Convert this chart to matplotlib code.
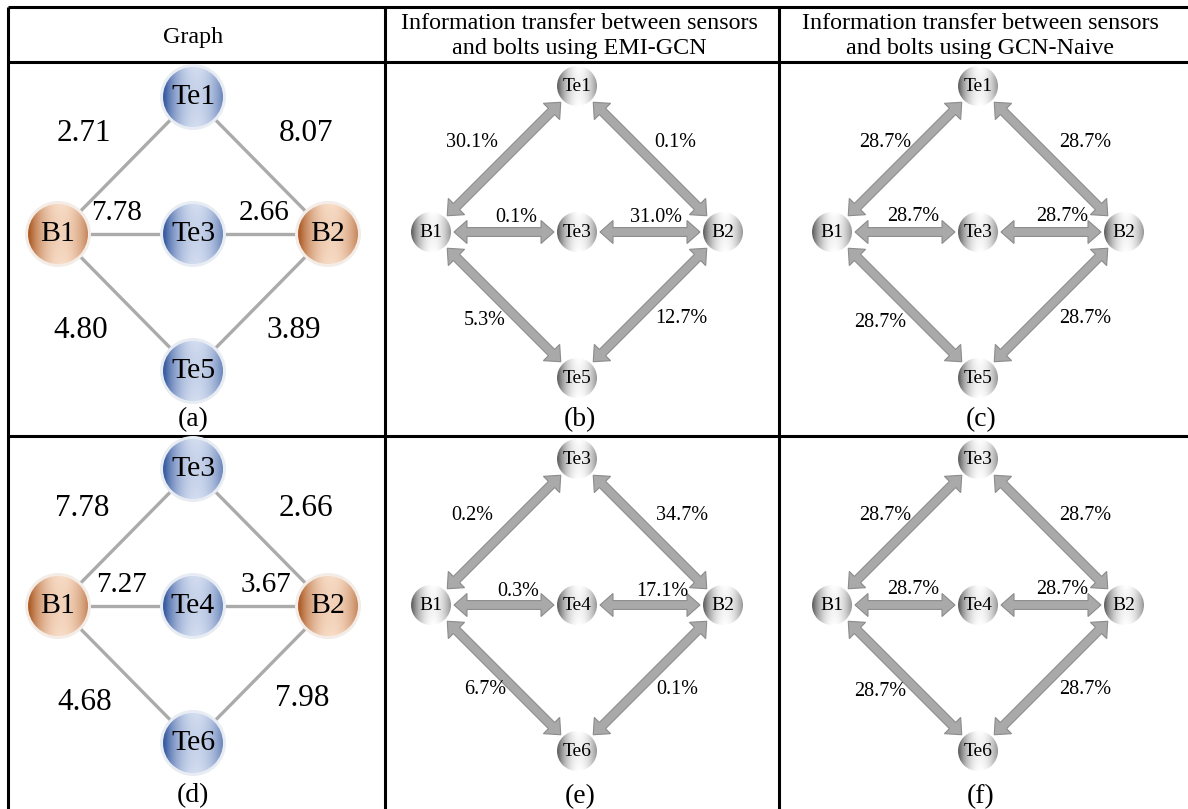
import numpy as np
import matplotlib
matplotlib.use("Agg")
import matplotlib.pyplot as plt
from matplotlib.patches import Circle, Polygon

plt.rcParams["font.family"] = ["Liberation Serif", "DejaVu Serif"]

# ---------------------------------------------------------------- data
bolts = ["B1", "B2"]
sensors_row1 = ["Te1", "Te3", "Te5"]          # top, middle, bottom sensor
sensors_row2 = ["Te3", "Te4", "Te6"]

# edge order: B1-top, top-B2, B1-mid, mid-B2, B1-bottom, bottom-B2
weights_a = [2.71, 8.07, 7.78, 2.66, 4.80, 3.89]
weights_d = [7.78, 2.66, 7.27, 3.67, 4.68, 7.98]
emi_gcn_b = [30.1, 0.1, 0.1, 31.0, 5.3, 12.7]
naive_c = [28.7, 28.7, 28.7, 28.7, 28.7, 28.7]
emi_gcn_e = [0.2, 34.7, 0.3, 17.1, 6.7, 0.1]
naive_f = [28.7, 28.7, 28.7, 28.7, 28.7, 28.7]

headers = ["Graph",
           "Information transfer between sensors\nand bolts using EMI-GCN",
           "Information transfer between sensors\nand bolts using GCN-Naive"]
panel_tags = ["(a)", "(b)", "(c)", "(d)", "(e)", "(f)"]

# ---------------------------------------------------------------- canvas
W, H = 1188, 809
fig = plt.figure(figsize=(W / 100, H / 100), dpi=100)
ax = fig.add_axes([0, 0, 1, 1])
ax.set_xlim(0, W)
ax.set_ylim(H, 0)
ax.axis("off")

# table grid
col_x = [8, 385, 779]
row_y = [7, 62, 436]
LW = 2.2
for y in row_y:
    ax.plot([col_x[0], W + 5], [y, y], color="black", lw=LW, solid_capstyle="butt", zorder=1)
for x in col_x:
    ax.plot([x, x], [row_y[0], H + 5], color="black", lw=LW, solid_capstyle="butt", zorder=1)

header_x = [193, 579, 980]
header_y = [37, 36, 36]
for hx, hy, txt in zip(header_x, header_y, headers):
    ax.text(hx, hy, txt, ha="center", va="center", fontsize=17.3,
            linespacing=1.25, zorder=5)


def sphere_image(dark, light, n=160):
    """Cylindrical shading: darker rim, light vertical band slightly right of centre."""
    x = np.linspace(-1, 1, n)
    X, Y = np.meshgrid(x, x)
    s = np.clip(1 - ((X - 0.12) / 1.05) ** 2, 0, 1) ** 0.9
    s = s * (0.92 + 0.08 * np.clip(Y, -1, 1) ** 2)
    dark = np.array(matplotlib.colors.to_rgb(dark))
    light = np.array(matplotlib.colors.to_rgb(light))
    img = dark[None, None, :] + (light - dark)[None, None, :] * s[..., None]
    return np.clip(img, 0, 1)


BLUE = sphere_image("#3c5fa3", "#d3ddf0")
ORANGE = sphere_image("#b0602c", "#f8dcc6")
GRAY = sphere_image("#666666", "#ffffff")


def draw_node(cx, cy, r, img, label, fs, halo=None):
    if halo is not None:
        ax.add_patch(Circle((cx, cy), r + 3, color=halo, lw=0, zorder=3))
    im = ax.imshow(img, extent=[cx - r, cx + r, cy + r, cy - r],
                   interpolation="bilinear", zorder=4)
    clip = Circle((cx, cy), r, transform=ax.transData)
    im.set_clip_path(clip)
    ax.text(cx, cy, label, ha="center", va="center", fontsize=fs, zorder=6)


def layout(cx, cy, dx, dy):
    """Node positions: B1, B2, top, mid, bottom."""
    return {"B1": (cx - dx, cy), "B2": (cx + dx, cy),
            "top": (cx, cy - dy), "mid": (cx, cy), "bot": (cx, cy + dy)}


edge_pairs = [("B1", "top"), ("top", "B2"), ("B1", "mid"),
              ("mid", "B2"), ("B1", "bot"), ("bot", "B2")]
middle_edges = {2, 3}


def graph_panel(cx, cy, sensors, weights, offsets, tag, tag_y):
    pos = layout(cx, cy, 135, 137)
    for (a, b) in edge_pairs:
        (x0, y0), (x1, y1) = pos[a], pos[b]
        ax.plot([x0, x1], [y0, y1], color="#ababab", lw=2.4, zorder=2,
                solid_capstyle="butt")
    for i, (w, (ox, oy)) in enumerate(zip(weights, offsets)):
        fs = 21 if i in middle_edges else 22.5
        ax.text(cx + ox, cy + oy, f"{w:.2f}", ha="center", va="center",
                fontsize=fs, zorder=6)
    r = 30
    draw_node(*pos["B1"], r, ORANGE, bolts[0], 21.5, halo="#f3ece7")
    draw_node(*pos["B2"], r, ORANGE, bolts[1], 21.5, halo="#f3ece7")
    for key, name in zip(["top", "mid", "bot"], sensors):
        draw_node(*pos[key], r, BLUE, name, 21.5, halo="#e8ecf3")
    ax.text(cx, tag_y, tag, ha="center", va="center", fontsize=20, zorder=6)


def double_arrow(p, q, r0, r1, gap=3.0, sw=4.4, hw=11.5, hl=13.0):
    p = np.asarray(p, float)
    q = np.asarray(q, float)
    d = q - p
    u = d / np.hypot(*d)
    n = np.array([-u[1], u[0]])
    a = p + u * (r0 + gap)
    b = q - u * (r1 + gap)
    pts = [a, a + u * hl + n * hw, a + u * hl + n * sw, b - u * hl + n * sw,
           b - u * hl + n * hw, b, b - u * hl - n * hw, b - u * hl - n * sw,
           a + u * hl - n * sw, a + u * hl - n * hw]
    ax.add_patch(Polygon(pts, closed=True, facecolor="#a9a9a9",
                         edgecolor="#8c8c8c", lw=0.8, joinstyle="miter", zorder=2))


def flow_panel(cx, cy, sensors, shares, offsets, tag, tag_y):
    pos = layout(cx, cy, 146, 146)
    r = 20
    for (a, b) in edge_pairs:
        double_arrow(pos[a], pos[b], r, r)
    for s, (ox, oy) in zip(shares, offsets):
        ax.text(cx + ox, cy + oy, f"{s:.1f}%", ha="center", va="center",
                fontsize=14.5, zorder=6)
    draw_node(*pos["B1"], r, GRAY, bolts[0], 14)
    draw_node(*pos["B2"], r, GRAY, bolts[1], 14)
    for key, name in zip(["top", "mid", "bot"], sensors):
        draw_node(*pos[key], r, GRAY, name, 14)
    ax.text(cx + 3, tag_y, tag, ha="center", va="center", fontsize=20, zorder=6)


# label offsets relative to the middle node of each panel
off_a = [(-109, -101), (113, -101), (-76, -21), (71, -21), (-112, 96), (101, 96)]
off_d = [(-111, -98), (113, -98), (-72, -21), (73, -21), (-108, 96), (109, 92)]
off_b = [(-105, -90), (98, -90), (-61, -15), (79, -15), (-92, 88), (104, 86)]
off_c = [(-93, -90), (107, -90), (-65, -16), (84, -16), (-98, 90), (107, 86)]
off_e = [(-105, -90), (105, -90), (-59, -14), (85, -14), (-92, 85), (100, 85)]
off_f = [(-93, -90), (107, -90), (-65, -15), (84, -15), (-98, 87), (107, 85)]

graph_panel(193, 234, sensors_row1, weights_a, off_a, panel_tags[0], 420)
flow_panel(577, 232, sensors_row1, emi_gcn_b, off_b, panel_tags[1], 420)
flow_panel(978, 232, sensors_row1, naive_c, off_c, panel_tags[2], 420)

graph_panel(193, 606, sensors_row2, weights_d, off_d, panel_tags[3], 796)
flow_panel(577, 605, sensors_row2, emi_gcn_e, off_e, panel_tags[4], 797)
flow_panel(978, 605, sensors_row2, naive_f, off_f, panel_tags[5], 797)

fig.savefig("out.png", dpi=100)
